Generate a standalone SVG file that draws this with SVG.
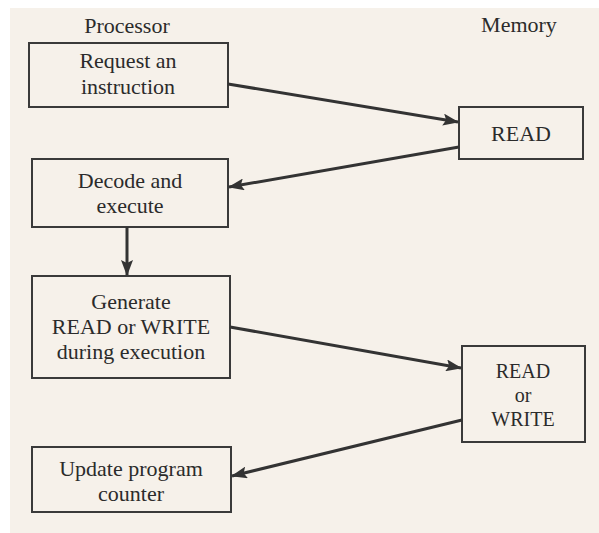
<svg xmlns="http://www.w3.org/2000/svg" width="599" height="533" viewBox="0 0 599 533">
  <style>
    .box { fill: none; stroke: #3a3a3a; stroke-width: 2; }
    .lbl { font-family: "Liberation Serif", "Times New Roman", serif; font-size: 22px; fill: #2b2b2b; text-anchor: middle; }
    .tight { font-size: 20px; }
    .wire { stroke: #333333; stroke-width: 3; fill: none; marker-end: url(#head); }
  </style>
  <defs>
    <marker id="head" markerUnits="userSpaceOnUse" markerWidth="16" markerHeight="12" viewBox="0 0 16 12" refX="15" refY="6" orient="auto">
      <path d="M0,0 L16,6 L0,12 L3,6 Z" fill="#333333"/>
    </marker>
  </defs>

  <!-- page -->
  <rect x="0" y="0" width="599" height="533" fill="#ffffff"/>
  <rect x="10" y="8" width="589" height="525" fill="#f6f1ea"/>

  <!-- column headings -->
  <text class="lbl" x="127" y="33">Processor</text>
  <text class="lbl" x="519" y="32">Memory</text>

  <g id="request">
    <rect class="box" x="29" y="43" width="199" height="64"/>
    <text class="lbl" x="128" y="68">Request an</text>
    <text class="lbl" x="128" y="94">instruction</text>
  </g>

  <g id="read">
    <rect class="box" x="459" y="107" width="124" height="52"/>
    <text class="lbl" x="521" y="141">READ</text>
  </g>

  <g id="decode">
    <rect class="box" x="32" y="159" width="196" height="68"/>
    <text class="lbl" x="130" y="188">Decode and</text>
    <text class="lbl" x="130" y="213">execute</text>
  </g>

  <g id="generate">
    <rect class="box" x="32" y="276" width="198" height="102"/>
    <text class="lbl" x="131" y="309">Generate</text>
    <text class="lbl" x="131" y="334">READ or WRITE</text>
    <text class="lbl" x="131" y="359">during execution</text>
  </g>

  <g id="read-or-write">
    <rect class="box" x="462" y="346" width="123" height="96"/>
    <text class="lbl tight" x="523" y="378">READ</text>
    <text class="lbl tight" x="523" y="402">or</text>
    <text class="lbl tight" x="523" y="426">WRITE</text>
  </g>

  <g id="update">
    <rect class="box" x="32" y="447" width="199" height="65"/>
    <text class="lbl" x="131" y="476">Update program</text>
    <text class="lbl" x="131" y="501">counter</text>
  </g>

  <g id="connectors">
    <line class="wire" x1="228" y1="84" x2="458" y2="122"/>
    <line class="wire" x1="459" y1="147" x2="229" y2="187"/>
    <line class="wire" x1="127" y1="227" x2="127" y2="275"/>
    <line class="wire" x1="230" y1="327" x2="461" y2="368"/>
    <line class="wire" x1="462" y1="420" x2="232" y2="476"/>
  </g>
</svg>
